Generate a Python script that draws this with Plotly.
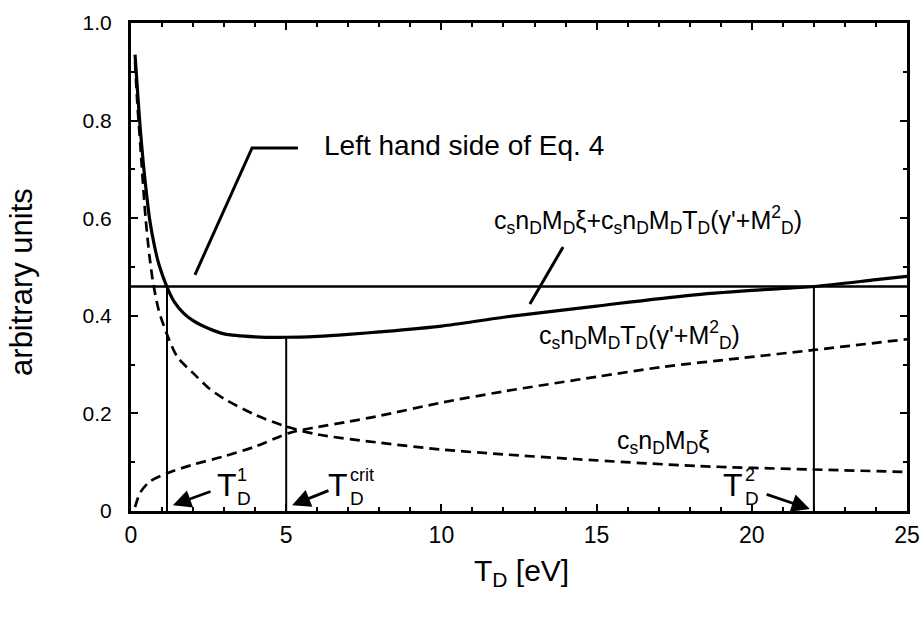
import plotly.graph_objects as go

# ---- data ----
x_sum = [0.13, 0.2, 0.29, 0.4, 0.5, 0.6, 0.75, 0.9, 1.16, 1.4, 1.7, 2.0, 2.5, 3.0, 4.0, 5.0,
         6.0, 7.0, 8.0, 10.0, 12.0, 15.0, 18.0, 20.0, 22.0, 24.0, 25.0]
y_sum = [0.935, 0.87, 0.79, 0.71, 0.65, 0.598, 0.545, 0.505, 0.459, 0.428, 0.405, 0.39, 0.374,
         0.363, 0.357, 0.356, 0.358, 0.362, 0.367, 0.379, 0.397, 0.42, 0.442, 0.452, 0.46, 0.474, 0.481]

x_xi = [0.13, 0.2, 0.3, 0.47, 0.6, 0.72, 0.9, 1.19, 1.5, 2.06, 2.5, 3.0, 4.0, 5.0, 6.0, 8.0,
        10.0, 12.0, 14.4, 18.3, 22.0, 25.0]
y_xi = [0.92, 0.84, 0.75, 0.60, 0.52, 0.465, 0.41, 0.357, 0.315, 0.279, 0.252, 0.23, 0.197,
        0.173, 0.157, 0.14, 0.126, 0.116, 0.106, 0.092, 0.085, 0.08]

x_T = [0.13, 0.3, 0.6, 1.19, 2.0, 3.0, 4.0, 5.1, 6.0, 7.0, 8.0, 10.0, 12.0, 15.0, 17.1,
       19.6, 22.0, 25.0]
y_T = [0.008, 0.038, 0.06, 0.078, 0.095, 0.112, 0.132, 0.16, 0.172, 0.183, 0.195, 0.222,
       0.245, 0.275, 0.295, 0.313, 0.33, 0.352]

lhs_value = 0.46
x_range = [0, 25]

vline_x = [1.16, 5.0, 22.0]
vline_top = [0.459, 0.356, 0.46]

x_ticks = [0, 5, 10, 15, 20, 25]
x_tick_labels = ["0", "5", "10", "15", "20", "25"]
y_ticks = [0, 0.2, 0.4, 0.6, 0.8, 1.0]
y_tick_labels = ["0", "0.2", "0.4", "0.6", "0.8", "1.0"]

FONT = "Liberation Sans, Arial, sans-serif"
BLACK = "black"

fig = go.Figure()

# left-hand side (horizontal line)
fig.add_trace(go.Scatter(x=x_range, y=[lhs_value, lhs_value], mode="lines",
                         line=dict(color=BLACK, width=2.7), showlegend=False, hoverinfo="skip"))
# sum curve
fig.add_trace(go.Scatter(x=x_sum, y=y_sum, mode="lines", line_shape="spline",
                         line=dict(color=BLACK, width=3.2, smoothing=0.8),
                         showlegend=False, hoverinfo="skip"))
# xi term (dashed decreasing)
fig.add_trace(go.Scatter(x=x_xi, y=y_xi, mode="lines", line_shape="spline",
                         line=dict(color=BLACK, width=2.7, dash="10px,6px", smoothing=0.8),
                         showlegend=False, hoverinfo="skip"))
# T term (dashed increasing)
fig.add_trace(go.Scatter(x=x_T, y=y_T, mode="lines", line_shape="spline",
                         line=dict(color=BLACK, width=2.7, dash="10px,6px", smoothing=0.8),
                         showlegend=False, hoverinfo="skip"))
# vertical markers
for vx, vt in zip(vline_x, vline_top):
    fig.add_trace(go.Scatter(x=[vx, vx], y=[0, vt], mode="lines",
                             line=dict(color=BLACK, width=2), showlegend=False, hoverinfo="skip"))

# leader lines (annotation decorations)
fig.add_trace(go.Scatter(x=[5.38, 3.9, 2.06], y=[0.744, 0.744, 0.484], mode="lines",
                         line=dict(color=BLACK, width=3), showlegend=False, hoverinfo="skip"))
fig.add_trace(go.Scatter(x=[13.92, 12.85], y=[0.541, 0.424], mode="lines",
                         line=dict(color=BLACK, width=3), showlegend=False, hoverinfo="skip"))

ann = []


def txt(x, y, s, size, xanchor="left", yanchor="middle"):
    ann.append(dict(x=x, y=y, xref="x", yref="y", text=s, showarrow=False,
                    xanchor=xanchor, yanchor=yanchor,
                    font=dict(family=FONT, size=size, color=BLACK)))


txt(6.15, 0.748, "Left hand side of Eq. 4", 28)
txt(11.63, 0.596,
    "c<sub>s</sub>n<sub>D</sub>M<sub>D</sub>ξ+c<sub>s</sub>n<sub>D</sub>M<sub>D</sub>"
    "T<sub>D</sub>(γ'+M<sup>2</sup><sub>D</sub>)", 25)
txt(13.08, 0.361,
    "c<sub>s</sub>n<sub>D</sub>M<sub>D</sub>T<sub>D</sub>(γ'+M<sup>2</sup><sub>D</sub>)", 25)
txt(15.59, 0.141, "c<sub>s</sub>n<sub>D</sub>M<sub>D</sub>ξ", 25)

# T labels built from T + stacked sub/sup
for tx, sx, sup in [(3.09, 3.35, "1"), (6.67, 6.99, "crit"), (19.39, 19.72, "2")]:
    txt(tx, 0.053, "T", 32, xanchor="center")
    txt(sx, 0.073, sup, 18)
    txt(sx, 0.025, "D", 19)

# arrows
for tip, tail in [((1.35, 0.012), (2.61, 0.041)),
                  ((5.19, 0.012), (6.41, 0.043)),
                  ((21.87, 0.004), (20.43, 0.035))]:
    ann.append(dict(x=tip[0], y=tip[1], ax=tail[0], ay=tail[1], xref="x", yref="y",
                    axref="x", ayref="y", text="", showarrow=True, arrowhead=2,
                    arrowsize=1.3, arrowwidth=2.8, arrowcolor=BLACK))

# axis titles
ann.append(dict(x=0.5026, y=-0.125, xref="paper", yref="paper", text="T<sub>D</sub> [eV]",
                showarrow=False, xanchor="center", yanchor="middle",
                font=dict(family=FONT, size=30, color=BLACK)))
ann.append(dict(x=-0.142, y=0.469, xref="paper", yref="paper", text="arbitrary units",
                showarrow=False, xanchor="center", yanchor="middle", textangle=-90,
                font=dict(family=FONT, size=31, color=BLACK)))

fig.update_layout(
    width=921, height=625,
    margin=dict(l=131, r=14, t=23, b=114, autoexpand=False),
    paper_bgcolor="white", plot_bgcolor="white",
    annotations=ann,
    xaxis=dict(range=x_range, tickvals=x_ticks, ticktext=x_tick_labels, automargin=False,
               showgrid=False, zeroline=False, showline=True, linecolor=BLACK, linewidth=3,
               mirror="ticks", ticks="inside", ticklen=7, tickwidth=2, tickcolor=BLACK,
               minor=dict(dtick=1, ticks="inside", ticklen=4, tickwidth=2, tickcolor=BLACK,
                          showgrid=False),
               tickfont=dict(family=FONT, size=23, color=BLACK), ticklabelstandoff=1),
    yaxis=dict(range=[0, 1], tickvals=y_ticks, ticktext=y_tick_labels, automargin=False,
               showgrid=False, zeroline=False, showline=True, linecolor=BLACK, linewidth=3,
               mirror="ticks", ticks="inside", ticklen=7, tickwidth=2, tickcolor=BLACK,
               minor=dict(dtick=0.1, ticks="inside", ticklen=4, tickwidth=2, tickcolor=BLACK,
                          showgrid=False),
               tickfont=dict(family=FONT, size=21, color=BLACK), ticklabelstandoff=12),
)

fig.write_html("out.html")
